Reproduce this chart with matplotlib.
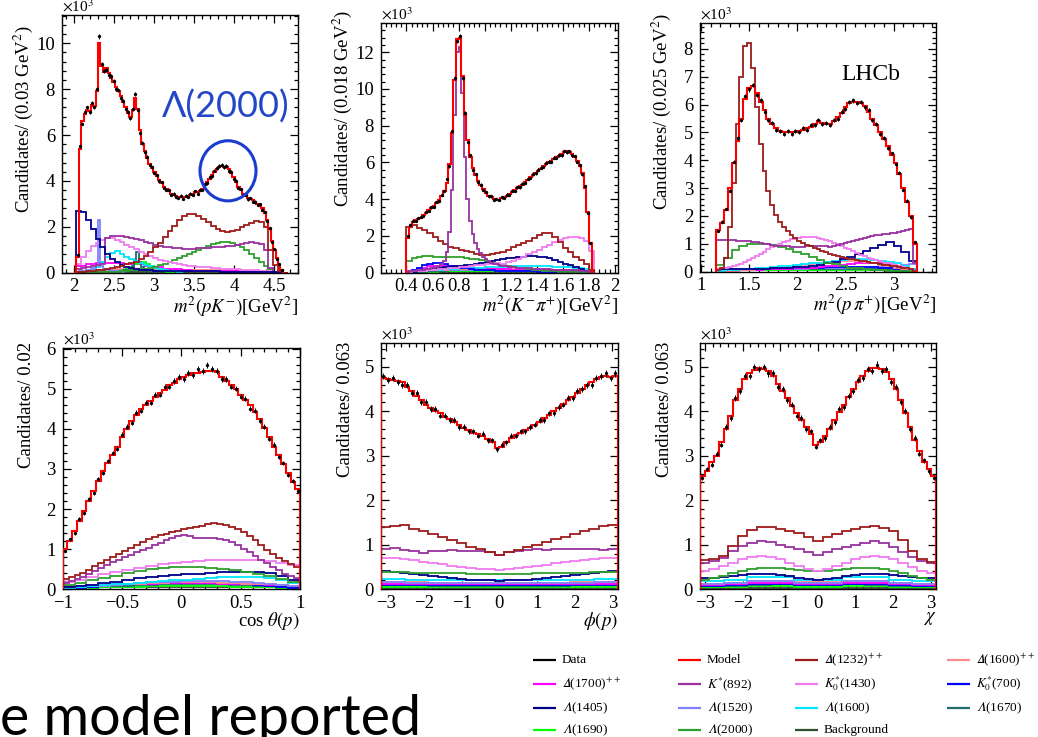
import numpy as np
import matplotlib
matplotlib.use("Agg")
import matplotlib.pyplot as plt
from matplotlib.ticker import MultipleLocator, AutoMinorLocator, FuncFormatter
from matplotlib.patches import Ellipse

plt.rcParams['font.family'] = 'Liberation Serif'
plt.rcParams['mathtext.fontset'] = 'stix'
plt.rcParams['axes.linewidth'] = 1.0

# all yields in units of 10^3 candidates per bin

# --- m^2(pK-) ---
pk_range = (2.00, 4.64)
pk_model = [0.0, 0.7, 5.4, 6.6, 6.9, 7.1, 7.05, 7.3, 7.25, 7.9,
            10.0, 9.0, 8.75, 8.9, 8.7, 8.5, 8.3, 8.1, 7.9, 7.7,
            7.45, 7.2, 6.95, 6.8, 7.1, 7.6, 7.15, 6.2, 5.6, 5.3,
            5.0, 4.75, 4.55, 4.4, 4.2, 4.05, 3.9, 3.75, 3.65, 3.55,
            3.45, 3.4, 3.35, 3.3, 3.3, 3.28, 3.3, 3.35, 3.4, 3.45,
            3.5, 3.5, 3.55, 3.65, 3.8, 3.95, 4.1, 4.25, 4.4, 4.5,
            4.6, 4.65, 4.62, 4.6, 4.5, 4.35, 4.15, 3.95, 3.75, 3.6,
            3.45, 3.35, 3.25, 3.2, 3.15, 3.08, 3.0, 2.95, 2.8, 2.6,
            2.3, 1.9, 1.4, 1.0, 0.65, 0.35, 0.1, 0.0]
pk_data = [0.0, 0.75, 5.5, 6.5, 7.0, 7.2, 7.0, 7.4, 7.2, 8.0,
           10.3, 9.1, 8.8, 8.85, 8.6, 8.55, 8.35, 8.0, 7.95, 7.6,
           7.5, 7.15, 7.0, 6.75, 7.15, 7.8, 7.1, 6.1, 5.65, 5.25,
           5.05, 4.7, 4.6, 4.35, 4.25, 4.0, 3.95, 3.7, 3.6, 3.6,
           3.4, 3.45, 3.3, 3.25, 3.35, 3.22, 3.35, 3.3, 3.45, 3.4,
           3.55, 3.45, 3.6, 3.6, 3.85, 3.9, 4.15, 4.2, 4.45, 4.55,
           4.65, 4.7, 4.6, 4.65, 4.45, 4.4, 4.1, 4.0, 3.7, 3.65,
           3.4, 3.4, 3.2, 3.25, 3.1, 3.1, 2.95, 3.0, 2.75, 2.65,
           2.25, 1.95, 1.35, 1.05, 0.6, 0.4, 0.1, 0.0]
pk_wide = (2.03, 4.67)
pk_d1232 = [0.02, 0.04, 0.06, 0.08, 0.1, 0.13, 0.16, 0.2, 0.25, 0.3,
            0.36, 0.42, 0.48, 0.58, 0.72, 0.9, 1.1, 1.3, 1.55, 1.8,
            2.05, 2.3, 2.45, 2.55, 2.55, 2.48, 2.35, 2.2, 2.05, 1.92,
            1.83, 1.78, 1.8, 1.87, 1.97, 2.08, 2.18, 2.25, 2.22, 2.0,
            1.0, 0.35, 0.08, 0.0]
pk_kst892 = [0.15, 0.2, 0.25, 0.3, 0.35, 0.4, 1.5, 1.6, 1.6, 1.58,
             1.55, 1.52, 1.48, 1.42, 1.35, 1.28, 1.22, 1.17, 1.12, 1.1,
             1.08, 1.06, 1.05, 1.05, 1.05, 1.06, 1.07, 1.08, 1.1, 1.12,
             1.14, 1.16, 1.18, 1.22, 1.26, 1.3, 1.32, 1.3, 1.25, 1.0,
             0.2, 0.0, 0.0, 0.0]
pk_k1430 = [0.4, 0.7, 0.95, 1.15, 1.3, 1.42, 1.5, 1.5, 1.42, 1.32,
            1.22, 1.12, 1.02, 0.92, 0.82, 0.72, 0.64, 0.57, 0.5, 0.45,
            0.41, 0.37, 0.34, 0.31, 0.29, 0.27, 0.25, 0.23, 0.21, 0.2,
            0.18, 0.17, 0.15, 0.14, 0.13, 0.12, 0.11, 0.1, 0.09, 0.08,
            0.06, 0.04, 0.02, 0.0]
pk_l1405 = [2.7, 2.65, 2.3, 1.9, 1.45, 1.1, 0.8, 0.6, 0.45, 0.33,
            0.25, 0.2, 0.16, 0.13, 0.11, 0.1, 0.09, 0.09, 0.08, 0.08,
            0.08, 0.07, 0.07, 0.07, 0.07, 0.06, 0.06, 0.06, 0.06, 0.06,
            0.05, 0.05, 0.05, 0.05, 0.05, 0.05, 0.05, 0.05, 0.05, 0.05,
            0.05, 0.03, 0.01, 0.0]
pk_l2000 = [0.02, 0.02, 0.03, 0.03, 0.03, 0.04, 0.04, 0.05, 0.05, 0.06,
            0.08, 0.1, 0.12, 0.15, 0.18, 0.22, 0.27, 0.33, 0.4, 0.48,
            0.56, 0.65, 0.74, 0.83, 0.92, 1.0, 1.08, 1.16, 1.23, 1.28,
            1.32, 1.32, 1.28, 1.2, 1.1, 0.97, 0.82, 0.65, 0.47, 0.3,
            0.15, 0.05, 0.01, 0.0]
pk_l1520_range = (2.03, 2.63)
pk_l1520 = [0.05, 0.06, 0.07, 0.08, 0.1, 0.12, 0.15, 0.2, 0.35, 2.3,
            0.3, 0.18, 0.14, 0.12, 0.1, 0.09, 0.08, 0.07, 0.06, 0.05]
pk_l1600_range = (2.03, 3.35)
pk_l1600 = [0.02, 0.04, 0.07, 0.12, 0.25, 0.45, 0.7, 0.88, 0.93, 0.82,
            0.7, 0.6, 0.5, 0.42, 0.35, 0.28, 0.22, 0.17, 0.12, 0.09,
            0.06, 0.04]
pk_l1670_range = (2.60, 3.02)
pk_l1670 = [0.08, 0.1, 0.13, 0.18, 0.28, 0.5, 0.9, 0.45, 0.25, 0.15,
            0.1, 0.08, 0.06, 0.05]
pk_l1690_range = (2.45, 3.25)
pk_l1690 = [0.03, 0.05, 0.08, 0.12, 0.18, 0.26, 0.36, 0.44, 0.45, 0.38,
            0.28, 0.19, 0.12, 0.08, 0.05, 0.03]
pk_coarse = (2.03, 4.55)
pk_d1700 = [0.3, 0.4, 0.42, 0.42, 0.42, 0.4, 0.36, 0.3, 0.24, 0.18,
            0.14, 0.11, 0.09, 0.08, 0.07, 0.07, 0.07, 0.06, 0.05, 0.04, 0.02]
pk_d1600 = [0.05, 0.08, 0.1, 0.12, 0.14, 0.15, 0.15, 0.15, 0.14, 0.13,
            0.12, 0.11, 0.1, 0.1, 0.1, 0.1, 0.1, 0.09, 0.08, 0.06, 0.03]
pk_k700 = [0.05, 0.08, 0.1, 0.12, 0.12, 0.12, 0.11, 0.1, 0.1, 0.09,
           0.09, 0.08, 0.08, 0.07, 0.07, 0.07, 0.06, 0.06, 0.05, 0.04, 0.02]
pk_bkg = [0.04, 0.05, 0.05, 0.05, 0.05, 0.05, 0.05, 0.05, 0.05, 0.05,
          0.05, 0.05, 0.05, 0.05, 0.05, 0.05, 0.05, 0.05, 0.05, 0.04, 0.03]

# --- m^2(K-pi+) ---
kp_range = (0.40, 1.82)
kp_model = [1.9, 2.5, 2.75, 2.85, 2.9, 3.0, 3.15, 3.25, 3.4, 3.5,
            3.65, 3.8, 3.95, 4.15, 4.45, 4.9, 5.9, 7.6, 10.5, 12.7,
            12.8, 10.7, 8.6, 7.2, 6.3, 5.7, 5.3, 5.0, 4.75, 4.55,
            4.35, 4.2, 4.1, 4.0, 3.97, 3.98, 4.05, 4.1, 4.2, 4.3,
            4.4, 4.5, 4.6, 4.7, 4.8, 4.95, 5.05, 5.2, 5.3, 5.45,
            5.55, 5.65, 5.8, 5.9, 6.0, 6.1, 6.2, 6.3, 6.35, 6.45,
            6.55, 6.6, 6.55, 6.45, 6.3, 6.1, 5.8, 5.4, 4.6, 3.3,
            1.6]
kp_data = [2.0, 2.6, 2.8, 2.8, 2.95, 3.05, 3.1, 3.3, 3.35, 3.55,
           3.6, 3.85, 3.9, 4.25, 4.45, 5.1, 5.8, 7.7, 10.6, 12.6,
           12.9, 10.6, 8.7, 7.1, 6.4, 5.6, 5.35, 4.95, 4.8, 4.5,
           4.4, 4.15, 4.15, 3.95, 4.0, 3.95, 4.1, 4.05, 4.25, 4.25,
           4.45, 4.45, 4.65, 4.65, 4.85, 4.9, 5.1, 5.15, 5.35, 5.4,
           5.6, 5.7, 5.75, 5.95, 6.05, 6.05, 6.25, 6.25, 6.4, 6.4,
           6.6, 6.55, 6.6, 6.4, 6.35, 6.05, 5.85, 5.35, 4.7, 3.25,
           1.6]
kp_kst892 = [0.05, 0.07, 0.09, 0.1, 0.12, 0.14, 0.16, 0.18, 0.2, 0.23,
             0.26, 0.3, 0.35, 0.45, 0.65, 1.1, 2.2, 4.5, 8.6, 12.0,
             12.3, 9.8, 6.3, 4.0, 2.8, 2.1, 1.6, 1.3, 1.05, 0.85,
             0.72, 0.62, 0.55, 0.5, 0.45, 0.42, 0.39, 0.36, 0.34, 0.32,
             0.3, 0.29, 0.28, 0.27, 0.26, 0.25, 0.24, 0.23, 0.22, 0.21,
             0.2, 0.2, 0.19, 0.18, 0.18, 0.17, 0.16, 0.16, 0.15, 0.15,
             0.14, 0.14, 0.13, 0.13, 0.12, 0.12, 0.11, 0.1, 0.09, 0.07,
             0.04]
kp_wide = (0.40, 1.84)
kp_d1232 = [2.5, 2.6, 2.45, 2.3, 2.15, 1.95, 1.75, 1.55, 1.42, 1.32,
            1.25, 1.17, 1.1, 1.02, 0.96, 0.96, 1.0, 1.05, 1.12, 1.25,
            1.38, 1.5, 1.62, 1.75, 1.9, 2.05, 2.18, 2.15, 1.95, 1.65,
            1.35, 1.1, 0.88, 0.68, 0.45, 0.15]
kp_k1430 = [0.05, 0.07, 0.09, 0.11, 0.13, 0.15, 0.18, 0.21, 0.24, 0.27,
            0.3, 0.33, 0.36, 0.4, 0.43, 0.46, 0.5, 0.53, 0.5, 0.57,
            0.66, 0.76, 0.88, 1.0, 1.12, 1.25, 1.38, 1.52, 1.68, 1.8,
            1.88, 1.93, 1.93, 1.88, 1.75, 1.2]
kp_l2000 = [0.62, 0.82, 0.88, 0.9, 0.9, 0.88, 0.87, 0.87, 0.86, 0.85,
            0.83, 0.8, 0.76, 0.72, 0.67, 0.61, 0.55, 0.49, 0.43, 0.38,
            0.33, 0.28, 0.24, 0.2, 0.17, 0.14, 0.11, 0.09, 0.07, 0.05,
            0.04, 0.03, 0.02, 0.02, 0.01, 0.0]
kp_k700 = [0.05, 0.15, 0.28, 0.4, 0.5, 0.55, 0.52, 0.45, 0.38, 0.32,
           0.27, 0.23, 0.2, 0.17, 0.15, 0.13, 0.12, 0.11, 0.1, 0.09,
           0.09, 0.08, 0.08, 0.07, 0.07, 0.06, 0.06, 0.05, 0.05, 0.05,
           0.04, 0.04, 0.03, 0.03, 0.02, 0.01]
kp_l1405 = [0.02, 0.05, 0.1, 0.15, 0.2, 0.25, 0.28, 0.3, 0.32, 0.34,
            0.37, 0.4, 0.44, 0.48, 0.53, 0.58, 0.63, 0.68, 0.73, 0.78,
            0.82, 0.86, 0.88, 0.9, 0.9, 0.88, 0.84, 0.78, 0.7, 0.6,
            0.5, 0.4, 0.3, 0.2, 0.1, 0.02]
kp_l1600 = [0.02, 0.05, 0.08, 0.1, 0.12, 0.14, 0.16, 0.18, 0.2, 0.22,
            0.24, 0.25, 0.26, 0.27, 0.28, 0.29, 0.3, 0.31, 0.32, 0.33,
            0.34, 0.35, 0.35, 0.35, 0.35, 0.35, 0.34, 0.34, 0.33, 0.32,
            0.31, 0.3, 0.28, 0.25, 0.18, 0.05]
kp_coarse = (0.40, 1.84)
kp_d1700 = [0.1, 0.25, 0.35, 0.38, 0.35, 0.3, 0.26, 0.22, 0.2, 0.18,
            0.17, 0.16, 0.15, 0.14, 0.13, 0.12, 0.1, 0.05]
kp_d1600 = [0.05, 0.1, 0.14, 0.16, 0.18, 0.19, 0.2, 0.21, 0.22, 0.22,
            0.22, 0.21, 0.2, 0.19, 0.17, 0.15, 0.12, 0.05]
kp_l1520 = [0.03, 0.08, 0.12, 0.15, 0.16, 0.17, 0.17, 0.17, 0.16, 0.15,
            0.14, 0.13, 0.12, 0.11, 0.1, 0.08, 0.06, 0.02]
kp_l1670 = [0.02, 0.05, 0.08, 0.1, 0.12, 0.13, 0.14, 0.15, 0.16, 0.16,
            0.16, 0.15, 0.14, 0.12, 0.1, 0.08, 0.05, 0.02]
kp_l1690 = [0.02, 0.04, 0.06, 0.08, 0.09, 0.1, 0.1, 0.1, 0.1, 0.1,
            0.1, 0.09, 0.08, 0.07, 0.06, 0.05, 0.03, 0.01]
kp_bkg = [0.03, 0.05, 0.05, 0.05, 0.05, 0.05, 0.05, 0.05, 0.05, 0.05,
          0.05, 0.05, 0.05, 0.05, 0.05, 0.04, 0.04, 0.02]

# --- m^2(p pi+) ---
ppi_range = (1.16, 3.24)
ppi_model = [1.5, 1.75, 2.2, 3.0, 3.9, 4.7, 5.5, 6.2, 6.6, 6.65,
             6.4, 6.1, 5.8, 5.5, 5.3, 5.15, 5.05, 5.0, 5.02, 5.0,
             5.0, 5.05, 5.1, 5.15, 5.2, 5.3, 5.4, 5.35, 5.3, 5.3,
             5.4, 5.55, 5.7, 5.9, 6.05, 6.1, 6.1, 6.05, 5.95, 5.75,
             5.5, 5.25, 5.0, 4.75, 4.5, 4.2, 3.9, 3.5, 3.0, 2.5,
             2.0, 1.0]
ppi_data = [1.45, 1.8, 2.25, 2.9, 3.95, 4.8, 5.45, 6.3, 6.55, 6.7,
            6.35, 6.15, 5.75, 5.45, 5.35, 5.1, 5.05, 4.95, 5.05, 4.95,
            5.05, 5.0, 5.15, 5.1, 5.25, 5.25, 5.45, 5.3, 5.35, 5.25,
            5.45, 5.5, 5.75, 5.85, 6.1, 6.15, 6.05, 6.1, 5.9, 5.8,
            5.45, 5.3, 4.95, 4.8, 4.45, 4.25, 3.85, 3.55, 2.95, 2.55,
            1.95, 1.05]
ppi_d1232 = [0.05, 0.15, 0.5, 1.6, 3.2, 5.3, 7.0, 8.1, 8.2, 7.3,
             5.9, 4.6, 3.6, 2.9, 2.4, 2.05, 1.8, 1.6, 1.45, 1.32,
             1.2, 1.12, 1.04, 0.97, 0.91, 0.86, 0.8, 0.75, 0.7, 0.65,
             0.6, 0.57, 0.53, 0.5, 0.47, 0.44, 0.41, 0.39, 0.37, 0.35,
             0.32, 0.3, 0.27, 0.25, 0.23, 0.21, 0.19, 0.17, 0.14, 0.12,
             0.08, 0.04]
ppi_kst892 = [1.15, 1.15, 1.15, 1.14, 1.13, 1.12, 1.11, 1.1, 1.09, 1.07,
              1.05, 1.03, 1.0, 0.98, 0.96, 0.94, 0.93, 0.92, 0.91, 0.9,
              0.9, 0.9, 0.9, 0.91, 0.92, 0.93, 0.93, 0.92, 0.91, 0.9,
              0.92, 0.95, 0.98, 1.02, 1.06, 1.1, 1.13, 1.16, 1.2, 1.23,
              1.27, 1.3, 1.33, 1.35, 1.37, 1.39, 1.4, 1.42, 1.45, 1.5,
              1.55, 0.3]
ppi_k1430 = [0.1, 0.12, 0.14, 0.17, 0.2, 0.24, 0.29, 0.35, 0.42, 0.5,
             0.57, 0.65, 0.72, 0.8, 0.87, 0.94, 1.0, 1.06, 1.11, 1.16,
             1.19, 1.22, 1.24, 1.26, 1.26, 1.25, 1.22, 1.19, 1.15, 1.1,
             1.04, 0.98, 0.92, 0.86, 0.8, 0.73, 0.67, 0.61, 0.55, 0.5,
             0.45, 0.41, 0.37, 0.33, 0.3, 0.27, 0.24, 0.2, 0.17, 0.13,
             0.09, 0.04]
ppi_coarse = (1.16, 3.24)
ppi_l2000 = [0.25, 0.5, 0.78, 0.92, 0.98, 1.0, 0.99, 0.95, 0.9, 0.82,
             0.72, 0.62, 0.52, 0.42, 0.33, 0.26, 0.2, 0.15, 0.12, 0.09,
             0.07, 0.05, 0.04, 0.03, 0.02, 0.01]
ppi_l1405 = [0.08, 0.09, 0.1, 0.1, 0.1, 0.1, 0.11, 0.12, 0.13, 0.14,
             0.16, 0.18, 0.21, 0.25, 0.3, 0.36, 0.44, 0.53, 0.63, 0.74,
             0.86, 0.97, 1.05, 0.92, 0.72, 0.4]
ppi_l1600 = [0.03, 0.05, 0.07, 0.09, 0.11, 0.13, 0.15, 0.17, 0.19, 0.21,
             0.24, 0.27, 0.3, 0.33, 0.36, 0.39, 0.42, 0.44, 0.45, 0.45,
             0.43, 0.4, 0.36, 0.3, 0.2, 0.08]
ppi_d1600 = [0.02, 0.03, 0.04, 0.05, 0.06, 0.08, 0.1, 0.12, 0.14, 0.17,
             0.2, 0.24, 0.28, 0.32, 0.36, 0.39, 0.4, 0.4, 0.38, 0.35,
             0.3, 0.25, 0.2, 0.15, 0.1, 0.04]
ppi_d1700 = [0.02, 0.03, 0.04, 0.05, 0.06, 0.07, 0.08, 0.09, 0.1, 0.11,
             0.12, 0.13, 0.15, 0.17, 0.19, 0.21, 0.24, 0.27, 0.3, 0.32,
             0.33, 0.32, 0.28, 0.22, 0.15, 0.06]
ppi_l1520 = [0.02, 0.03, 0.04, 0.05, 0.06, 0.07, 0.08, 0.09, 0.1, 0.1,
             0.11, 0.11, 0.12, 0.12, 0.13, 0.13, 0.14, 0.14, 0.15, 0.15,
             0.16, 0.17, 0.18, 0.2, 0.25, 0.28]
ppi_l1670 = [0.05, 0.06, 0.07, 0.08, 0.09, 0.1, 0.1, 0.1, 0.1, 0.1,
             0.1, 0.1, 0.1, 0.1, 0.1, 0.1, 0.1, 0.1, 0.1, 0.1,
             0.1, 0.1, 0.09, 0.08, 0.06, 0.03]
ppi_l1690 = [0.03, 0.04, 0.05, 0.05, 0.05, 0.05, 0.05, 0.05, 0.05, 0.05,
             0.05, 0.05, 0.05, 0.05, 0.05, 0.05, 0.05, 0.05, 0.05, 0.05,
             0.05, 0.05, 0.05, 0.04, 0.03, 0.02]
ppi_k700 = [0.02, 0.03, 0.04, 0.05, 0.06, 0.07, 0.08, 0.09, 0.1, 0.11,
            0.12, 0.13, 0.14, 0.15, 0.16, 0.17, 0.18, 0.18, 0.18, 0.18,
            0.17, 0.15, 0.13, 0.1, 0.07, 0.03]
ppi_bkg = [0.1, 0.1, 0.1, 0.1, 0.1, 0.1, 0.1, 0.1, 0.1, 0.1,
           0.1, 0.1, 0.1, 0.1, 0.1, 0.1, 0.1, 0.1, 0.1, 0.1,
           0.1, 0.1, 0.1, 0.1, 0.09, 0.08]

# --- cos theta(p) ---
ct_range = (-1.0, 1.0)
ct_model = [1.0, 1.2, 1.45, 1.7, 1.95, 2.2, 2.45, 2.7, 2.95, 3.15,
            3.35, 3.55, 3.8, 4.0, 4.2, 4.35, 4.5, 4.6, 4.7, 4.78,
            4.88, 4.97, 5.08, 5.15, 5.25, 5.3, 5.35, 5.38, 5.4, 5.42,
            5.45, 5.45, 5.42, 5.3, 5.2, 5.1, 4.98, 4.85, 4.72, 4.58,
            4.42, 4.25, 4.02, 3.8, 3.55, 3.35, 3.12, 2.9, 2.68, 2.5]
ct_data = [0.95, 1.25, 1.4, 1.75, 1.9, 2.25, 2.4, 2.75, 2.9, 3.2,
           3.4, 3.5, 3.85, 4.05, 4.15, 4.4, 4.45, 4.65, 4.65, 4.85,
           4.85, 5.05, 5.05, 5.2, 5.3, 5.25, 5.4, 5.35, 5.5, 5.45,
           5.6, 5.5, 5.45, 5.25, 5.25, 5.05, 5.0, 4.8, 4.75, 4.5,
           4.45, 4.2, 4.05, 3.75, 3.6, 3.3, 3.15, 2.85, 2.7, 2.45]
ct_d1232 = [0.25, 0.3, 0.35, 0.4, 0.48, 0.57, 0.65, 0.72, 0.8, 0.87,
            0.95, 1.02, 1.1, 1.18, 1.25, 1.3, 1.35, 1.39, 1.42, 1.46,
            1.5, 1.53, 1.55, 1.58, 1.62, 1.64, 1.63, 1.6, 1.55, 1.5,
            1.42, 1.33, 1.22, 1.1, 0.98, 0.88, 0.78, 0.7, 0.63, 0.56]
ct_kst892 = [0.16, 0.2, 0.25, 0.31, 0.38, 0.45, 0.52, 0.6, 0.67, 0.74,
             0.8, 0.86, 0.92, 0.98, 1.04, 1.1, 1.16, 1.22, 1.27, 1.32,
             1.36, 1.32, 1.29, 1.27, 1.27, 1.27, 1.26, 1.22, 1.17, 1.1,
             1.01, 0.92, 0.83, 0.74, 0.65, 0.56, 0.47, 0.39, 0.32, 0.27]
ct_k1430 = [0.17, 0.24, 0.31, 0.37, 0.43, 0.48, 0.53, 0.58, 0.62, 0.66,
            0.69, 0.71, 0.72, 0.73, 0.73, 0.74, 0.72, 0.7, 0.66, 0.6]
ct_l2000 = [0.1, 0.16, 0.22, 0.28, 0.34, 0.4, 0.45, 0.5, 0.53, 0.55,
            0.56, 0.55, 0.53, 0.5, 0.47, 0.43, 0.38, 0.32, 0.25, 0.17]
ct_l1405 = [0.05, 0.08, 0.11, 0.15, 0.19, 0.23, 0.27, 0.3, 0.33, 0.35,
            0.37, 0.39, 0.41, 0.43, 0.44, 0.44, 0.43, 0.4, 0.33, 0.22]
ct_l1600 = [0.04, 0.06, 0.08, 0.1, 0.12, 0.14, 0.16, 0.18, 0.2, 0.22,
            0.24, 0.26, 0.28, 0.3, 0.31, 0.31, 0.3, 0.27, 0.22, 0.15]
ct_l1520 = [0.03, 0.05, 0.07, 0.09, 0.11, 0.13, 0.15, 0.17, 0.18, 0.19,
            0.2, 0.2, 0.2, 0.2, 0.19, 0.18, 0.16, 0.14, 0.11, 0.08]
ct_d1600 = [0.03, 0.05, 0.07, 0.09, 0.11, 0.13, 0.14, 0.15, 0.16, 0.17,
            0.17, 0.17, 0.17, 0.16, 0.15, 0.14, 0.13, 0.12, 0.1, 0.08]
ct_d1700 = [0.08, 0.09, 0.1, 0.11, 0.12, 0.13, 0.14, 0.14, 0.15, 0.15,
            0.15, 0.15, 0.15, 0.14, 0.14, 0.13, 0.12, 0.11, 0.1, 0.09]
ct_k700 = [0.02, 0.04, 0.06, 0.08, 0.1, 0.12, 0.13, 0.14, 0.15, 0.16,
           0.16, 0.16, 0.15, 0.14, 0.13, 0.12, 0.1, 0.08, 0.06, 0.04]
ct_l1670 = [0.04, 0.05, 0.06, 0.07, 0.08, 0.09, 0.1, 0.11, 0.12, 0.12,
            0.12, 0.12, 0.12, 0.12, 0.11, 0.1, 0.09, 0.08, 0.07, 0.06]
ct_l1690 = [0.02, 0.03, 0.04, 0.05, 0.05, 0.06, 0.06, 0.07, 0.07, 0.07,
            0.07, 0.07, 0.07, 0.07, 0.06, 0.06, 0.05, 0.05, 0.04, 0.03]
ct_bkg = [0.05, 0.05, 0.05, 0.05, 0.05, 0.05, 0.05, 0.05, 0.05, 0.05,
          0.05, 0.05, 0.05, 0.05, 0.05, 0.05, 0.05, 0.05, 0.05, 0.05]

# --- phi(p) ---
ang_range = (-np.pi, np.pi)
phi_model = [4.75, 4.72, 4.7, 4.68, 4.65, 4.55, 4.45, 4.35, 4.25, 4.15,
             4.07, 4.0, 3.95, 3.88, 3.82, 3.75, 3.68, 3.62, 3.57, 3.52,
             3.48, 3.44, 3.38, 3.3, 3.18, 3.2, 3.32, 3.4, 3.46, 3.52,
             3.58, 3.63, 3.7, 3.76, 3.84, 3.92, 4.0, 4.08, 4.16, 4.25,
             4.33, 4.42, 4.5, 4.58, 4.65, 4.72, 4.78, 4.8, 4.78, 4.8]
phi_data = [4.8, 4.7, 4.75, 4.65, 4.6, 4.6, 4.4, 4.4, 4.2, 4.2,
            4.05, 4.05, 3.9, 3.9, 3.8, 3.8, 3.65, 3.65, 3.55, 3.55,
            3.45, 3.5, 3.35, 3.35, 3.15, 3.25, 3.3, 3.45, 3.45, 3.55,
            3.55, 3.65, 3.7, 3.8, 3.8, 3.95, 3.95, 4.1, 4.15, 4.3,
            4.3, 4.45, 4.5, 4.6, 4.6, 4.75, 4.8, 4.85, 4.75, 4.85]
phi_d1232 = [1.4, 1.42, 1.45, 1.35, 1.3, 1.24, 1.17, 1.1, 1.03, 0.96,
             0.9, 0.84, 0.78, 0.83, 0.88, 0.94, 1.0, 1.06, 1.12, 1.18,
             1.24, 1.3, 1.36, 1.42, 1.45]
phi_kst892 = [0.9, 0.92, 0.88, 0.85, 0.82, 0.86, 0.87, 0.88, 0.87, 0.86,
              0.87, 0.84, 0.77, 0.84, 0.87, 0.88, 0.9, 0.89, 0.9, 0.91,
              0.9, 0.9, 0.9, 0.89, 0.9]
phi_k1430 = [0.71, 0.7, 0.68, 0.65, 0.62, 0.59, 0.56, 0.53, 0.5, 0.48,
             0.46, 0.45, 0.44, 0.45, 0.47, 0.5, 0.52, 0.55, 0.58, 0.61,
             0.64, 0.66, 0.68, 0.7, 0.71]
phi_l2000 = [0.38, 0.38, 0.38, 0.37, 0.37, 0.37, 0.36, 0.36, 0.36, 0.35,
             0.35, 0.35, 0.34, 0.35, 0.35, 0.35, 0.36, 0.36, 0.36, 0.37,
             0.37, 0.37, 0.38, 0.38, 0.38]
phi_l1405 = [0.4, 0.38, 0.36, 0.34, 0.32, 0.3, 0.28, 0.26, 0.24, 0.22,
             0.21, 0.2, 0.19, 0.2, 0.21, 0.22, 0.24, 0.26, 0.28, 0.3,
             0.32, 0.34, 0.36, 0.38, 0.4]
phi_l1600 = [0.23, 0.22, 0.21, 0.2, 0.2, 0.2, 0.2, 0.21, 0.22, 0.23]
phi_l1520 = [0.16, 0.15, 0.15, 0.14, 0.14, 0.14, 0.14, 0.15, 0.15, 0.16]
phi_d1600 = [0.17, 0.16, 0.15, 0.15, 0.14, 0.14, 0.15, 0.15, 0.16, 0.17]
phi_d1700 = [0.13, 0.12, 0.12, 0.12, 0.11, 0.11, 0.12, 0.12, 0.12, 0.13]
phi_k700 = [0.1, 0.1, 0.1, 0.09, 0.09, 0.09, 0.09, 0.1, 0.1, 0.1]
phi_l1670 = [0.09, 0.09, 0.08, 0.08, 0.08, 0.08, 0.08, 0.08, 0.09, 0.09]
phi_l1690 = [0.06, 0.06, 0.06, 0.06, 0.05, 0.05, 0.06, 0.06, 0.06, 0.06]
phi_bkg = [0.04, 0.04, 0.04, 0.04, 0.04, 0.04, 0.04, 0.04, 0.04, 0.04]

# --- chi ---
chi_model = [2.55, 2.65, 2.85, 3.0, 3.3, 3.6, 3.9, 4.25, 4.5, 4.72,
             4.85, 4.93, 4.97, 4.95, 4.9, 4.8, 4.62, 4.45, 4.3, 4.12,
             3.95, 3.8, 3.65, 3.5, 3.25, 3.3, 3.45, 3.6, 3.8, 3.98,
             4.15, 4.32, 4.5, 4.65, 4.8, 4.9, 4.97, 4.98, 4.95, 4.88,
             4.72, 4.5, 4.25, 3.95, 3.65, 3.35, 3.1, 2.85, 2.7, 2.55]
chi_data = [2.5, 2.7, 2.8, 3.05, 3.25, 3.65, 3.85, 4.3, 4.45, 4.8,
            4.8, 5.0, 4.95, 5.0, 4.85, 4.85, 4.55, 4.5, 4.25, 4.15,
            3.9, 3.85, 3.6, 3.55, 3.2, 3.35, 3.4, 3.65, 3.75, 4.05,
            4.1, 4.35, 4.45, 4.7, 4.75, 4.95, 4.9, 5.05, 4.9, 4.95,
            4.65, 4.55, 4.2, 4.0, 3.6, 3.4, 3.05, 2.9, 2.65, 2.5]
chi_d1232 = [0.65, 0.68, 0.75, 0.98, 1.2, 1.33, 1.4, 1.4, 1.36, 1.32,
             1.26, 1.18, 1.08, 1.18, 1.25, 1.3, 1.35, 1.4, 1.42, 1.38,
             1.3, 1.1, 0.85, 0.68, 0.62]
chi_kst892 = [0.6, 0.63, 0.7, 0.85, 0.98, 1.05, 1.08, 1.06, 1.0, 0.95,
              0.9, 0.84, 0.78, 0.84, 0.9, 0.95, 0.99, 1.04, 1.08, 1.05,
              0.96, 0.84, 0.72, 0.63, 0.6]
chi_k1430 = [0.4, 0.45, 0.52, 0.6, 0.67, 0.73, 0.75, 0.73, 0.68, 0.6,
             0.52, 0.45, 0.42, 0.45, 0.52, 0.6, 0.68, 0.73, 0.75, 0.73,
             0.67, 0.6, 0.5, 0.42, 0.36]
chi_l2000 = [0.2, 0.25, 0.3, 0.36, 0.42, 0.46, 0.48, 0.48, 0.47, 0.45,
             0.43, 0.41, 0.4, 0.41, 0.43, 0.45, 0.47, 0.48, 0.48, 0.46,
             0.42, 0.36, 0.3, 0.25, 0.21]
chi_l1405 = [0.25, 0.26, 0.28, 0.3, 0.32, 0.34, 0.35, 0.34, 0.32, 0.29,
             0.26, 0.24, 0.22, 0.24, 0.26, 0.29, 0.32, 0.34, 0.35, 0.34,
             0.32, 0.3, 0.28, 0.26, 0.25]
chi_l1600 = [0.18, 0.22, 0.27, 0.28, 0.22, 0.22, 0.28, 0.27, 0.22, 0.18]
chi_l1520 = [0.12, 0.15, 0.18, 0.18, 0.15, 0.15, 0.18, 0.18, 0.15, 0.12]
chi_d1600 = [0.12, 0.15, 0.18, 0.19, 0.16, 0.16, 0.19, 0.18, 0.15, 0.12]
chi_d1700 = [0.1, 0.12, 0.14, 0.15, 0.13, 0.13, 0.15, 0.14, 0.12, 0.1]
chi_k700 = [0.08, 0.1, 0.12, 0.13, 0.1, 0.1, 0.13, 0.12, 0.1, 0.08]
chi_l1670 = [0.07, 0.08, 0.1, 0.11, 0.1, 0.1, 0.11, 0.1, 0.08, 0.07]
chi_l1690 = [0.05, 0.06, 0.07, 0.07, 0.06, 0.06, 0.07, 0.07, 0.06, 0.05]
chi_bkg = [0.04, 0.04, 0.04, 0.04, 0.04, 0.04, 0.04, 0.04, 0.04, 0.04]

colors = {
    'data': '#000000', 'model': '#ff0000',
    'd1232': '#9e1b1b', 'd1600': '#ff8c8c', 'd1700': '#ff00ff',
    'kst892': '#9932a0', 'k1430': '#f07cf0', 'k700': '#0000ff',
    'l1405': '#00008b', 'l1520': '#8080ff', 'l1600': '#00e5ff',
    'l1670': '#1f6e6e', 'l1690': '#00ff00', 'l2000': '#2ea02e',
    'bkg': '#2f4f2f',
}
# italic capital Greek via the math-italic code points
DEL = '\U0001D6E5'
LAM = '\U0001D6EC'
legend_rows = [
    [('data', 'Data'), ('model', 'Model'),
     ('d1232', f'${DEL}$(1232)$^{{++}}$'), ('d1600', f'${DEL}$(1600)$^{{++}}$')],
    [('d1700', f'${DEL}$(1700)$^{{++}}$'), ('kst892', r'$K^{*}$(892)'),
     ('k1430', r'$K^{*}_{0}$(1430)'), ('k700', r'$K^{*}_{0}$(700)')],
    [('l1405', f'${LAM}$(1405)'), ('l1520', f'${LAM}$(1520)'),
     ('l1600', f'${LAM}$(1600)'), ('l1670', f'${LAM}$(1670)')],
    [('l1690', f'${LAM}$(1690)'), ('l2000', f'${LAM}$(2000)'),
     ('bkg', 'Background')],
]


def draw_hist(ax, rng, vals, color, lw=1.3, z=2):
    vals = np.asarray(vals, dtype=float)
    edges = np.linspace(rng[0], rng[1], len(vals) + 1)
    ax.stairs(vals, edges, color=color, lw=lw, zorder=z)


def draw_panel(ax, rng, model, data, parts):
    for key, prng, vals in parts:
        draw_hist(ax, prng, vals, colors[key])
    draw_hist(ax, rng, model, colors['model'], lw=1.5, z=3)
    d = np.asarray(data, dtype=float)
    e = np.linspace(rng[0], rng[1], len(d) + 1)
    c = 0.5 * (e[:-1] + e[1:])
    m = d > 0
    ax.errorbar(c[m], d[m], yerr=np.sqrt(d[m] * 1000) / 1000, fmt='o',
                ms=1.4, color='k', elinewidth=0.7, capsize=0, zorder=4)


def tick_fmt(v, pos):
    v = round(v, 6)
    if abs(v) < 1e-9:
        v = 0.0
    return f'{v:g}'.replace('-', '\u2212')


def style(ax, xlim, ylim, xstep, ystep, xlabel, ylabel, ylab_y):
    ax.set_xlim(*xlim)
    ax.set_ylim(*ylim)
    ax.xaxis.set_major_locator(MultipleLocator(xstep))
    ax.xaxis.set_minor_locator(AutoMinorLocator(5))
    ax.yaxis.set_major_locator(MultipleLocator(ystep))
    ax.yaxis.set_minor_locator(AutoMinorLocator(5))
    ax.xaxis.set_major_formatter(FuncFormatter(tick_fmt))
    ax.yaxis.set_major_formatter(FuncFormatter(tick_fmt))
    ax.tick_params(which='both', direction='in', top=True, right=True,
                   labelsize=13.5, width=0.9)
    ax.tick_params(which='major', length=6)
    ax.tick_params(which='minor', length=3)
    ax.tick_params(axis='x', pad=4)
    ax.tick_params(axis='y', pad=5)
    ax.set_xlabel(xlabel, fontsize=13.5, loc='right')
    ax.xaxis.set_label_coords(1.0, -0.085)
    ax.set_ylabel(ylabel, fontsize=13.5, loc='top')
    ax.yaxis.set_label_coords(-0.115, ylab_y)
    ax.text(0.0, 1.0, r'$\times$10$^{3}$', transform=ax.transAxes,
            fontsize=11, ha='left', va='bottom')


W, H = 1038, 737
fig = plt.figure(figsize=(W / 100, H / 100), dpi=100)


def add_axes(l, t, r, b):
    return fig.add_axes([l / W, 1 - b / H, (r - l) / W, (b - t) / H])


ax1 = add_axes(62, 15, 298, 272.7)
ax2 = add_axes(381, 23, 617.7, 272.7)
ax3 = add_axes(700, 22.7, 936, 271.7)
ax4 = add_axes(62.7, 347.7, 300, 589.3)
ax5 = add_axes(381, 342.7, 617.7, 589.3)
ax6 = add_axes(700, 342.7, 936, 589.3)

draw_panel(ax1, pk_range, pk_model, pk_data, [
    ('bkg', pk_coarse, pk_bkg), ('k700', pk_coarse, pk_k700),
    ('d1600', pk_coarse, pk_d1600), ('d1700', pk_coarse, pk_d1700),
    ('l1690', pk_l1690_range, pk_l1690), ('l1670', pk_l1670_range, pk_l1670),
    ('l1600', pk_l1600_range, pk_l1600), ('l1520', pk_l1520_range, pk_l1520),
    ('l2000', pk_wide, pk_l2000), ('k1430', pk_wide, pk_k1430),
    ('kst892', pk_wide, pk_kst892), ('l1405', pk_wide, pk_l1405),
    ('d1232', pk_wide, pk_d1232)])
draw_panel(ax2, kp_range, kp_model, kp_data, [
    ('bkg', kp_coarse, kp_bkg), ('l1690', kp_coarse, kp_l1690),
    ('l1670', kp_coarse, kp_l1670), ('l1520', kp_coarse, kp_l1520),
    ('d1600', kp_coarse, kp_d1600), ('d1700', kp_coarse, kp_d1700),
    ('l1600', kp_wide, kp_l1600), ('k700', kp_wide, kp_k700),
    ('l1405', kp_wide, kp_l1405), ('l2000', kp_wide, kp_l2000),
    ('k1430', kp_wide, kp_k1430), ('d1232', kp_wide, kp_d1232),
    ('kst892', kp_range, kp_kst892)])
draw_panel(ax3, ppi_range, ppi_model, ppi_data, [
    ('bkg', ppi_coarse, ppi_bkg), ('l1690', ppi_coarse, ppi_l1690),
    ('l1670', ppi_coarse, ppi_l1670), ('l1520', ppi_coarse, ppi_l1520),
    ('k700', ppi_coarse, ppi_k700), ('d1700', ppi_coarse, ppi_d1700),
    ('d1600', ppi_coarse, ppi_d1600), ('l1600', ppi_coarse, ppi_l1600),
    ('l1405', ppi_coarse, ppi_l1405), ('l2000', ppi_coarse, ppi_l2000),
    ('k1430', ppi_range, ppi_k1430), ('kst892', ppi_range, ppi_kst892),
    ('d1232', ppi_range, ppi_d1232)])
draw_panel(ax4, ct_range, ct_model, ct_data, [
    ('bkg', ct_range, ct_bkg), ('l1690', ct_range, ct_l1690),
    ('l1670', ct_range, ct_l1670), ('k700', ct_range, ct_k700),
    ('d1700', ct_range, ct_d1700), ('d1600', ct_range, ct_d1600),
    ('l1520', ct_range, ct_l1520), ('l1600', ct_range, ct_l1600),
    ('l1405', ct_range, ct_l1405), ('l2000', ct_range, ct_l2000),
    ('k1430', ct_range, ct_k1430), ('kst892', ct_range, ct_kst892),
    ('d1232', ct_range, ct_d1232)])
draw_panel(ax5, ang_range, phi_model, phi_data, [
    ('bkg', ang_range, phi_bkg), ('l1690', ang_range, phi_l1690),
    ('l1670', ang_range, phi_l1670), ('k700', ang_range, phi_k700),
    ('d1700', ang_range, phi_d1700), ('d1600', ang_range, phi_d1600),
    ('l1520', ang_range, phi_l1520), ('l1600', ang_range, phi_l1600),
    ('l1405', ang_range, phi_l1405), ('l2000', ang_range, phi_l2000),
    ('k1430', ang_range, phi_k1430), ('kst892', ang_range, phi_kst892),
    ('d1232', ang_range, phi_d1232)])
draw_panel(ax6, ang_range, chi_model, chi_data, [
    ('bkg', ang_range, chi_bkg), ('l1690', ang_range, chi_l1690),
    ('l1670', ang_range, chi_l1670), ('k700', ang_range, chi_k700),
    ('d1700', ang_range, chi_d1700), ('d1600', ang_range, chi_d1600),
    ('l1520', ang_range, chi_l1520), ('l1600', ang_range, chi_l1600),
    ('l1405', ang_range, chi_l1405), ('l2000', ang_range, chi_l2000),
    ('k1430', ang_range, chi_k1430), ('kst892', ang_range, chi_kst892),
    ('d1232', ang_range, chi_d1232)])

style(ax1, (1.85, 4.8), (0, 11.23), 0.5, 2,
      r'$m^{2}(pK^{-})$[GeV$^{2}$]', r'Candidates/ (0.03 GeV$^{2}$)', 0.96)
style(ax2, (0.205, 2.02), (0, 13.59), 0.2, 2,
      r'$m^{2}(K^{-}\pi^{+})$[GeV$^{2}$]', r'Candidates/ (0.018 GeV$^{2}$)', 1.05)
style(ax3, (0.99, 3.44), (0, 8.94), 0.5, 1,
      r'$m^{2}(p\,\pi^{+})$[GeV$^{2}$]', r'Candidates/ (0.025 GeV$^{2}$)', 1.04)
style(ax4, (-1, 1), (0, 6.02), 0.5, 1,
      r'cos $\theta(p)$', 'Candidates/ 0.02', 1.024)
style(ax5, (-np.pi, np.pi), (0, 5.54), 1, 1,
      r'$\phi(p)$', 'Candidates/ 0.063', 1.003)
style(ax6, (-np.pi, np.pi), (0, 5.54), 1, 1,
      r'$\chi$', 'Candidates/ 0.063', 1.003)

ax3.text(0.60, 0.77, 'LHCb', transform=ax3.transAxes, fontsize=17,
         ha='left', va='baseline')

# highlight of the Lambda(2000) region
ax1.add_patch(Ellipse((3.925, 4.44), 0.7, 2.62, fill=False,
                      edgecolor='#1a3ccc', lw=2.2, zorder=6))

# overlay in pixel coordinates for the legend and free text
ov = fig.add_axes([0, 0, 1, 1])
ov.set_xlim(0, W)
ov.set_ylim(H, 0)
ov.axis('off')

ov.text(162, 118, '\u039b(2000)', family='Lato', fontsize=26,
        color='#2347c6', ha='left', va='baseline')

col_x = [533, 678, 795, 947]
row_y = [660, 684, 708, 730]
for r, row in enumerate(legend_rows):
    for c, (key, label) in enumerate(row):
        x0 = col_x[c]
        y = row_y[r]
        ov.plot([x0, x0 + 23], [y, y], color=colors[key], lw=1.6,
                solid_capstyle='butt')
        ov.text(x0 + 29, y, label, fontsize=9.5, ha='left', va='center')

ov.text(0, 735, 'e model reported', family='Lato', fontsize=40,
        ha='left', va='baseline', color='black')

fig.savefig('out.png', dpi=100)
